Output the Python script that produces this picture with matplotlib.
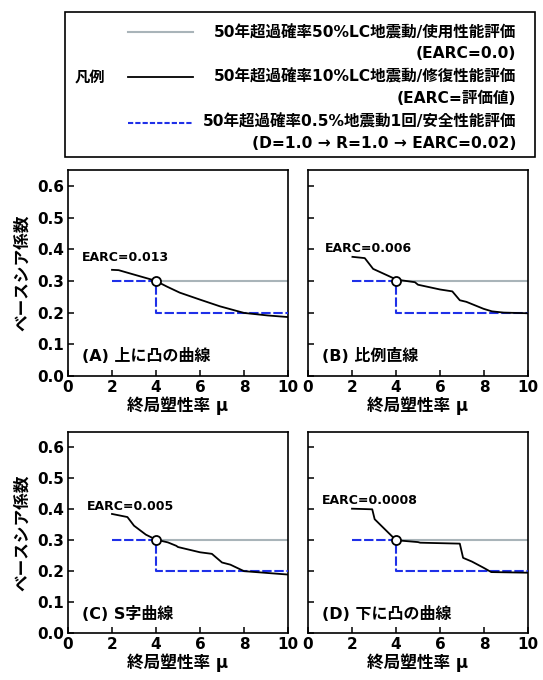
import matplotlib
matplotlib.use("Agg")
from matplotlib import pyplot as plt
from matplotlib.patches import Rectangle
from matplotlib.lines import Line2D

plt.rcParams['font.family'] = ['DejaVu Sans', 'Noto Sans CJK JP']
plt.rcParams['font.weight'] = 'bold'
plt.rcParams['axes.labelweight'] = 'bold'

# data
gray_x = [4, 10]
gray_y = [0.3, 0.3]
blue_x = [2, 4, 4, 10]
blue_y = [0.3, 0.3, 0.2, 0.2]
point_x = [4]
point_y = [0.3]

a_x = [2.0, 2.3, 3.0, 3.96, 4.5, 5.08, 6.0, 6.9, 8.0, 9.08, 10.0]
a_y = [0.335, 0.334, 0.32, 0.301, 0.282, 0.263, 0.241, 0.22, 0.199, 0.191, 0.186]
b_x = [2.02, 2.58, 2.96, 4.03, 4.86, 5.0, 6.0, 6.56, 6.9, 7.2, 7.98, 8.36, 8.9, 10.0]
b_y = [0.376, 0.372, 0.338, 0.304, 0.296, 0.288, 0.273, 0.267, 0.239, 0.234, 0.212, 0.204, 0.2, 0.198]
c_x = [2.0, 2.7, 3.0, 3.54, 4.0, 4.54, 4.92, 5.0, 6.0, 6.54, 7.0, 7.38, 8.0, 9.08, 10.0]
c_y = [0.385, 0.375, 0.347, 0.318, 0.302, 0.293, 0.282, 0.278, 0.261, 0.256, 0.228, 0.221, 0.2, 0.194, 0.189]
d_x = [2.0, 2.92, 3.03, 4.0, 5.0, 5.1, 6.9, 7.05, 7.45, 7.98, 8.33, 10.0]
d_y = [0.402, 0.4, 0.368, 0.3, 0.294, 0.292, 0.289, 0.243, 0.231, 0.211, 0.197, 0.195]

panel_names = ['(A) 上に凸の曲線', '(B) 比例直線', '(C) S字曲線', '(D) 下に凸の曲線']
earc_labels = ['EARC=0.013', 'EARC=0.006', 'EARC=0.005', 'EARC=0.0008']
earc_pos = [(0.62, 0.374), (0.76, 0.402), (0.85, 0.41), (0.65, 0.427)]
curves = [(a_x, a_y), (b_x, b_y), (c_x, c_y), (d_x, d_y)]

xticks = [0, 2, 4, 6, 8, 10]
yticks = [0.0, 0.1, 0.2, 0.3, 0.4, 0.5, 0.6]

gray_c = '#a9b4b9'
blue_c = '#1f30e8'
blue_dash = (4.5, 1.3)

fig = plt.figure(figsize=(5.43, 6.8), dpi=100)

W, H = 543.0, 680.0
boxes = [(68, 170, 288, 376), (308, 170, 528, 376),
         (68, 432, 288, 633), (308, 432, 528, 633)]

for i, (l, t, r, b) in enumerate(boxes):
    ax = fig.add_axes([l / W, 1 - b / H, (r - l) / W, (b - t) / H])
    cx, cy = curves[i]
    ax.plot(gray_x, gray_y, color=gray_c, lw=1.5, zorder=2)
    ax.plot(blue_x, blue_y, color=blue_c, lw=1.5, dashes=blue_dash, zorder=3)
    ax.plot(cx, cy, color='black', lw=1.3, zorder=4)
    ax.plot(point_x, point_y, 'o', ms=6.5, mfc='white', mec='black', mew=1.3, zorder=5)
    ax.text(earc_pos[i][0], earc_pos[i][1], earc_labels[i], fontsize=9,
            va='center', ha='left')
    ax.text(0.62, 0.062, panel_names[i], fontsize=11.5, va='center', ha='left')
    ax.set_xlim(0, 10)
    ax.set_ylim(0, 0.65)
    ax.set_xticks(xticks)
    ax.set_yticks(yticks)
    ax.tick_params(direction='in', length=4, width=1.1, labelsize=11, pad=3)
    for s in ax.spines.values():
        s.set_linewidth(1.2)
    ax.set_xlabel('終局塑性率 μ', fontsize=12, labelpad=1)
    if i % 2 == 0:
        ax.set_yticklabels(['%.1f' % v for v in yticks])
        ax.set_ylabel('ベースシア係数', fontsize=12, labelpad=4)
    else:
        ax.set_yticklabels([])

# legend box
fig.add_artist(Rectangle((65 / W, 1 - 157 / H), 470 / W, 145 / H,
                         transform=fig.transFigure, fill=False,
                         edgecolor='black', lw=1.2))
fig.text(75 / W, 1 - 78 / H, '凡例', fontsize=11, va='center', ha='left')

sample_styles = [dict(color=gray_c, lw=1.5),
                 dict(color='black', lw=1.3),
                 dict(color=blue_c, lw=1.5, dashes=(2.5, 1.0))]
sample_y = [32, 77, 123]
for st, yy in zip(sample_styles, sample_y):
    fig.add_artist(Line2D([128 / W, 193 / W], [1 - yy / H, 1 - yy / H],
                          transform=fig.transFigure, **st))

legend_lines = ['50年超過確率50%LC地震動/使用性能評価', '(EARC=0.0)',
                '50年超過確率10%LC地震動/修復性能評価', '(EARC=評価値)',
                '50年超過確率0.5%地震動1回/安全性能評価',
                '(D=1.0 → R=1.0 → EARC=0.02)']
legend_y = [33, 54, 77, 98, 122, 143]
for txt, yy in zip(legend_lines, legend_y):
    fig.text(516 / W, 1 - yy / H, txt, fontsize=11.2, va='center', ha='right')

fig.savefig('out.png', dpi=100)
